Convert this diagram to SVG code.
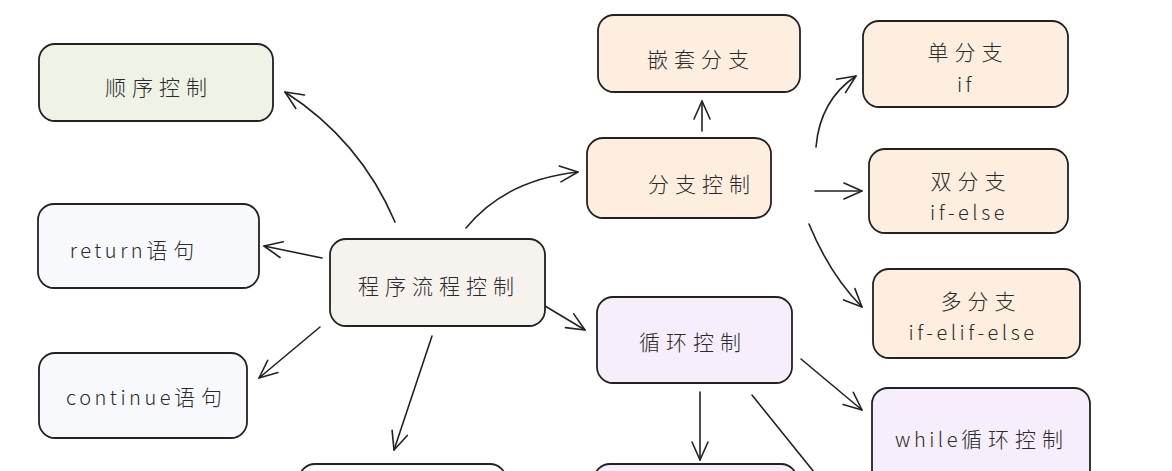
<svg xmlns="http://www.w3.org/2000/svg" width="1172" height="471" viewBox="0 0 1172 471">
<defs>
<marker id="arr" markerUnits="userSpaceOnUse" markerWidth="30" markerHeight="30" refX="0" refY="0" viewBox="-20 -15 30 30" orient="auto">
<path d="M -18 -8 L 0 0 L -18 8" fill="none" stroke="#222" stroke-width="1.6" stroke-linecap="round" stroke-linejoin="round"/>
</marker>
<style>
.n{stroke:#222;stroke-width:1.8}
.g{fill:#eef3e5}
.b{fill:#f7f9fd}
.c{fill:#f6f2ee}
.o{fill:#fdeedf}
.p{fill:#f6eefa}
.w{fill:#fcfcfc}
.t{font-family:"Noto Sans CJK SC","Noto Sans",sans-serif;font-size:20px;font-weight:300;fill:#2a2a2a;text-anchor:middle;dominant-baseline:central;letter-spacing:3.5px}
.k{font-size:21px;letter-spacing:6px}
.e{stroke:#222;stroke-width:1.6;fill:none;stroke-linecap:round;marker-end:url(#arr)}
.l{stroke:#222;stroke-width:1.6;fill:none;stroke-linecap:round}
</style>
</defs>
<rect width="1172" height="471" fill="#ffffff"/>
<g id="connectors">
<path class="e" d="M 395 222 Q 360 140 285 92"/>
<path class="e" d="M 322 258 L 264 246"/>
<path class="e" d="M 320 327 L 259 378"/>
<path class="e" d="M 432 336 L 394 450"/>
<path class="e" d="M 466 228 Q 505 180 578 172"/>
<path class="e" d="M 545 306 L 585 330"/>
<path class="e" d="M 702 131 L 702 101"/>
<path class="e" d="M 816 147 Q 820 100 856 76"/>
<path class="e" d="M 815 191 L 862 191"/>
<path class="e" d="M 809 224 Q 830 275 862 307"/>
<path class="e" d="M 801 359 L 862 410"/>
<path class="e" d="M 700 392 L 700 460"/>
<path class="l" d="M 752 395 L 814 472"/>
</g>
<g id="n-shunxu"><rect class="n g" x="39" y="44" width="234" height="77" rx="16"/><text class="t" x="159" y="86"><tspan class="k">顺序控制</tspan></text></g>
<g id="n-return"><rect class="n b" x="38" y="204" width="221" height="84" rx="16"/><text class="t" x="135" y="249">return<tspan class="k">语句</tspan></text></g>
<g id="n-continue"><rect class="n b" x="39" y="353" width="208" height="85" rx="16"/><text class="t" x="147" y="396">continue<tspan class="k">语句</tspan></text></g>
<g id="n-main"><rect class="n c" x="330" y="239" width="215" height="87" rx="16"/><text class="t" x="439" y="285"><tspan class="k">程序流程控制</tspan></text></g>
<g id="n-qiantao"><rect class="n o" x="598" y="15" width="202" height="77" rx="16"/><text class="t" x="701" y="58"><tspan class="k">嵌套分支</tspan></text></g>
<g id="n-fenzhi"><rect class="n o" x="587" y="138" width="184" height="80" rx="16"/><text class="t" x="702" y="183"><tspan class="k">分支控制</tspan></text></g>
<g id="n-dan"><rect class="n o" x="863" y="21" width="205" height="86" rx="16"/><text class="t" x="968" y="51"><tspan class="k">单分支</tspan></text><text class="t" x="966" y="83">if</text></g>
<g id="n-shuang"><rect class="n o" x="869" y="149" width="199" height="84" rx="16"/><text class="t" x="971" y="180"><tspan class="k">双分支</tspan></text><text class="t" x="969" y="211">if-else</text></g>
<g id="n-duo"><rect class="n o" x="873" y="269" width="207" height="89" rx="16"/><text class="t" x="981" y="300"><tspan class="k">多分支</tspan></text><text class="t" x="973" y="331">if-elif-else</text></g>
<g id="n-xunhuan"><rect class="n p" x="597" y="297" width="195" height="86" rx="16"/><text class="t" x="693" y="341"><tspan class="k">循环控制</tspan></text></g>
<g id="n-while"><rect class="n p" x="872" y="388" width="218" height="100" rx="16"/><text class="t" x="982" y="438">while<tspan class="k">循环控制</tspan></text></g>
<g id="n-bottom-left"><rect class="n w" x="299" y="464" width="207" height="60" rx="16"/></g>
<g id="n-bottom-mid"><rect class="n p" x="594" y="464" width="203" height="60" rx="16"/></g>
</svg>
